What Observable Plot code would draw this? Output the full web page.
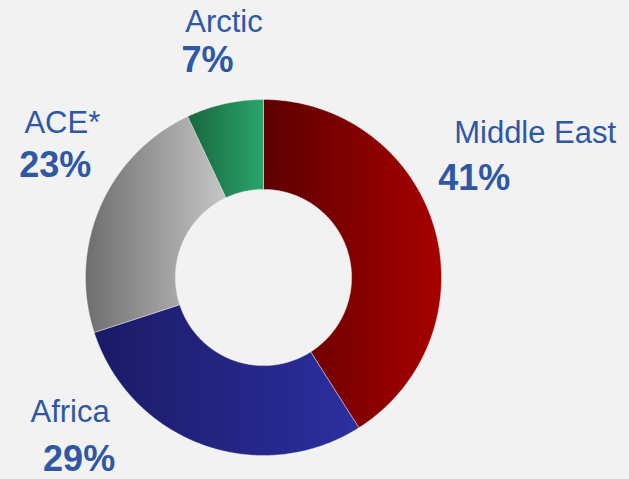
<!DOCTYPE html>
<html><head><meta charset="utf-8">
<script src="https://cdn.jsdelivr.net/npm/d3@7"></script>
<script src="https://cdn.jsdelivr.net/npm/@observablehq/plot@0.6"></script>
<style>html,body{margin:0;padding:0;background:#f2f2f2;} #chart{width:629px;height:479px;}</style>
</head><body><div id="chart"></div>
<script>
// ---- data ----
const regions = ["Middle East", "Africa", "ACE*", "Arctic"];
const shares = [41, 29, 23, 7];
const shareLabels = ["41%", "29%", "23%", "7%"];

// ---- styles / layout ----
const gradients = [
  ["#5c0000", "#a80000"],
  ["#1b1a66", "#2c2fa0"],
  ["#6e6e6e", "#c6c6c6"],
  ["#19663f", "#2aa56b"]
];
const textColor = "#2e57a6";
const innerRatio = 0.495;
const labelRadius = 1.25;
// pixel nudges of each label from its anchor on the slice's mid-angle
const labelNudge = [
  {name: [58, -82], pct: [-3, -37]},
  {name: [-118, -75], pct: [-109, -27]},
  {name: [3, -66], pct: [-4, -24]},
  {name: [9, -38], pct: [-7.5, 0]}
];

const total = d3.sum(shares);
let acc = 0;
const slices = regions.map((name, i) => {
  const a0 = acc / total * 2 * Math.PI;
  acc += shares[i];
  const a1 = acc / total * 2 * Math.PI;
  const mid = (a0 + a1) / 2;
  return {name, pct: shareLabels[i], i, a0, a1, mid,
          ax: labelRadius * Math.sin(mid), ay: labelRadius * Math.cos(mid)};
});
function ringPoints(s) {
  const n = Math.max(8, Math.ceil((s.a1 - s.a0) / (Math.PI / 360)));
  const pts = [];
  for (let k = 0; k <= n; k++) { const a = s.a0 + (s.a1 - s.a0) * k / n; pts.push({x: Math.sin(a), y: Math.cos(a)}); }
  for (let k = n; k >= 0; k--) { const a = s.a0 + (s.a1 - s.a0) * k / n; pts.push({x: innerRatio * Math.sin(a), y: innerRatio * Math.cos(a)}); }
  pts.push(pts[0]);
  return pts;
}

const marks = [];
slices.forEach((s) => {
  marks.push(Plot.line(ringPoints(s), {x: "x", y: "y", fill: `url(#grad-${s.i})`,
    stroke: "#f2f2f2", strokeWidth: 0.6, strokeOpacity: 0.7, curve: "linear"}));
});
slices.forEach((s) => {
  const nn = labelNudge[s.i];
  marks.push(Plot.text([s], {x: "ax", y: "ay", text: "name", dx: nn.name[0], dy: nn.name[1],
    fill: textColor, fontSize: 31, fontFamily: "Liberation Sans, Arial, sans-serif", textAnchor: "middle"}));
  marks.push(Plot.text([s], {x: "ax", y: "ay", text: "pct", dx: nn.pct[0], dy: nn.pct[1],
    fill: textColor, fontSize: 36, fontWeight: "bold", fontFamily: "Liberation Sans, Arial, sans-serif", textAnchor: "middle"}));
});

const chart = Plot.plot({
  width: 629, height: 479,
  marginLeft: 85, marginRight: 188, marginTop: 99, marginBottom: 24,
  x: {domain: [-1, 1], axis: null},
  y: {domain: [-1, 1], axis: null},
  style: {background: "#f2f2f2", fontFamily: "Liberation Sans, Arial, sans-serif", overflow: "visible"},
  marks
});

const NS = "http://www.w3.org/2000/svg";
const defs = document.createElementNS(NS, "defs");
gradients.forEach(([c0, c1], i) => {
  const lg = document.createElementNS(NS, "linearGradient");
  lg.setAttribute("id", `grad-${i}`);
  lg.setAttribute("x1", "0"); lg.setAttribute("y1", "0");
  lg.setAttribute("x2", "1"); lg.setAttribute("y2", "0");
  [[0, c0], [1, c1]].forEach(([o, c]) => {
    const st = document.createElementNS(NS, "stop");
    st.setAttribute("offset", o);
    st.setAttribute("stop-color", c);
    lg.appendChild(st);
  });
  defs.appendChild(lg);
});
chart.insertBefore(defs, chart.firstChild);
document.getElementById("chart").appendChild(chart);
</script>
</body></html>
